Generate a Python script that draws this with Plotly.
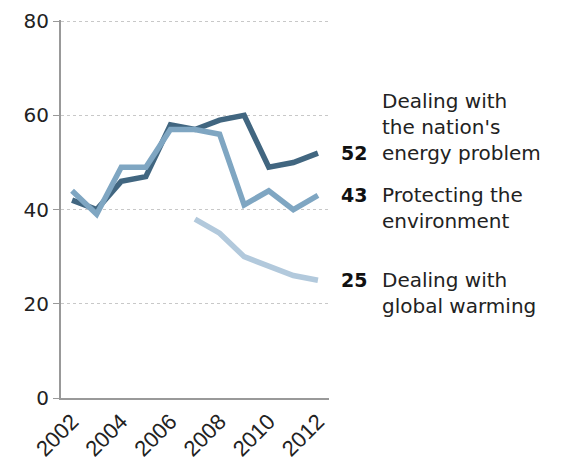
import plotly.graph_objects as go

years = [2002, 2003, 2004, 2005, 2006, 2007, 2008, 2009, 2010, 2011, 2012]
energy = [42, 40, 46, 47, 58, 57, 59, 60, 49, 50, 52]
environment = [44, 39, 49, 49, 57, 57, 56, 41, 44, 40, 43]
warming_years = [2007, 2008, 2009, 2010, 2011, 2012]
warming = [38, 35, 30, 28, 26, 25]

series_names = ["Dealing with<br>the nation's<br>energy problem",
                "Protecting the<br>environment",
                "Dealing with<br>global warming"]
colors = ["#416680", "#7fa6c2", "#b2c9dc"]
y_ticks = [0, 20, 40, 60, 80]
x_ticks = [2002, 2004, 2006, 2008, 2010, 2012]

FONT = "DejaVu Sans, Verdana, sans-serif"

fig = go.Figure()
fig.add_trace(go.Scatter(x=warming_years, y=warming, mode="lines",
                         line=dict(color=colors[2], width=5.5), showlegend=False, hoverinfo="skip"))
fig.add_trace(go.Scatter(x=years, y=energy, mode="lines",
                         line=dict(color=colors[0], width=5.5), showlegend=False, hoverinfo="skip"))
fig.add_trace(go.Scatter(x=years, y=environment, mode="lines",
                         line=dict(color=colors[1], width=5.5), showlegend=False, hoverinfo="skip"))

ends = [(energy[-1], series_names[0], "bottom"),
        (environment[-1], series_names[1], "top"),
        (warming[-1], series_names[2], "top")]
anns = []
for val, name, anchor in ends:
    anns.append(dict(x=years[-1], y=val, xref="x", yref="y", text="<b>%d</b>" % val,
                     showarrow=False, xanchor="left", yanchor="middle", xshift=21,
                     font=dict(family=FONT, size=19, color="#111")))
    anns.append(dict(x=years[-1], y=val, xref="x", yref="y", text=name,
                     showarrow=False, xanchor="left", yanchor=anchor, align="left",
                     xshift=62, yshift=(-14 if anchor == "bottom" else 14),
                     font=dict(family=FONT, size=20, color="#222")))

fig.update_layout(
    width=564, height=464,
    margin=dict(l=53, r=243, t=12, b=74),
    paper_bgcolor="white", plot_bgcolor="white",
    font=dict(family=FONT, size=20, color="#222"),
    annotations=anns,
    xaxis=dict(range=[2001.55, 2012.45], tickvals=x_ticks, ticktext=[str(v) for v in x_ticks],
               tickangle=-45, showgrid=False, zeroline=False, showline=True, automargin=False,
               linecolor="#999", linewidth=2, ticks="", ticklabeloverflow="allow",
               tickfont=dict(family="Liberation Sans, Arial, sans-serif", size=22)),
    yaxis=dict(range=[0, 80.25], tickvals=y_ticks, showgrid=True, gridcolor="#c8c8c8",
               griddash="dot", gridwidth=1, zeroline=False, showline=True, automargin=False,
               linecolor="#999", linewidth=2, ticks="outside", ticklen=6, ticklabeloverflow="allow",
               tickcolor="#999", tickwidth=1, tickfont=dict(size=20)),
)

fig.write_html("out.html")
